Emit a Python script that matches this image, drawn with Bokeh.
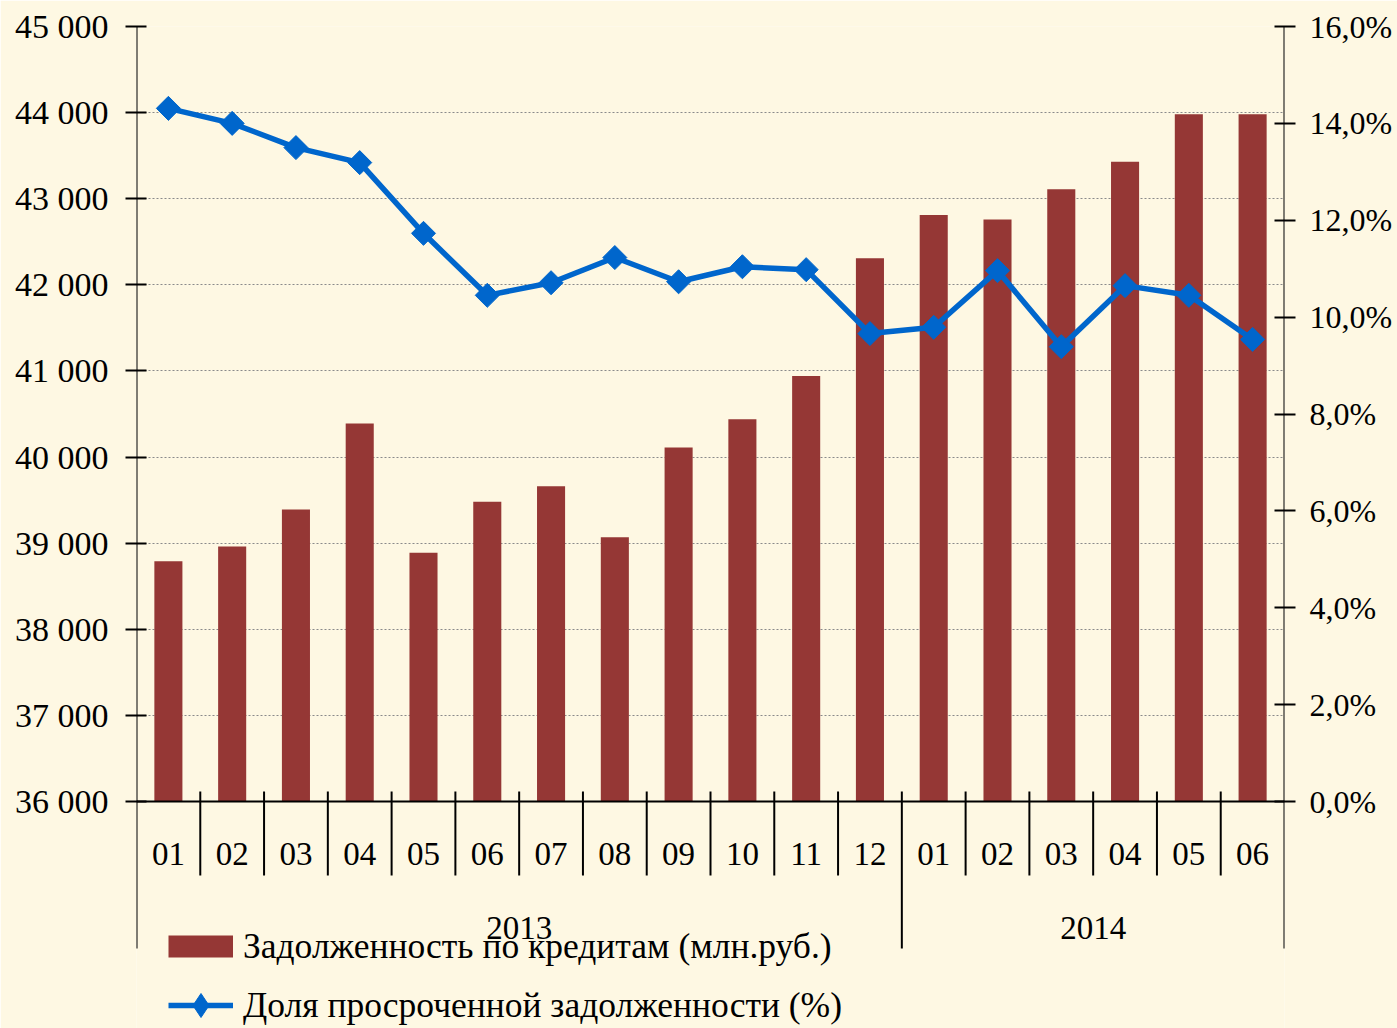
from bokeh.plotting import figure
from bokeh.models import Range1d, LinearAxis, FixedTicker, CustomJSTickFormatter, ColumnDataSource, Legend, LegendItem
from bokeh.core.properties import value
from bokeh.embed import file_html
from bokeh.resources import INLINE

# ---- data ----
months = ["01", "02", "03", "04", "05", "06", "07", "08", "09", "10", "11", "12",
          "01", "02", "03", "04", "05", "06"]
years = ["2013", "2014"]
year_counts = [12, 6]
loans = [38790, 38960, 39390, 40390, 38890, 39480, 39660, 39070, 40110, 40440,
         40940, 42310, 42810, 42760, 43110, 43430, 43980, 43980]
overdue = [14.31, 14.00, 13.50, 13.19, 11.73, 10.45, 10.71, 11.23, 10.73, 11.04,
           10.98, 9.66, 9.79, 10.96, 9.39, 10.65, 10.45, 9.54]
left_ticks = [36000, 37000, 38000, 39000, 40000, 41000, 42000, 43000, 44000, 45000]
right_ticks = [0, 2, 4, 6, 8, 10, 12, 14, 16]
loans_label = "Задолженность по кредитам (млн.руб.)"
overdue_label = "Доля просроченной задолженности (%)"

# ---- styling ----
BG = "#FEF8E3"
BAR = "#953735"
BLUE = "#0066CC"
FONT = "Liberation Serif"

W, H = 1397, 1028
LEFT, TOP, RIGHT = 136, 26, 113
FRAME_W = W - LEFT - RIGHT
FRAME_H = H - TOP
PLOT_H = 775              # pixels between 36 000 and 45 000
EXTRA = FRAME_H - PLOT_H  # pixels of frame below the x axis line
AXIS_DROP = 147           # how far the outer axis lines go below the x axis
y0, y1 = left_ticks[0], left_ticks[-1]
r0, r1 = right_ticks[0], right_ticks[-1]
upx = (y1 - y0) / PLOT_H  # data units per pixel on left scale


def dy(px):
    return px * upx


n = len(months)
xs = [i + 0.5 for i in range(n)]

p = figure(frame_width=FRAME_W, frame_height=FRAME_H,
           x_range=Range1d(0, n), y_range=Range1d(y0 - dy(EXTRA), y1),
           output_backend="svg", toolbar_location=None,
           x_axis_location=None,
           min_border_left=LEFT, min_border_right=RIGHT, min_border_top=TOP, min_border_bottom=0,
           background_fill_color=BG, border_fill_color=BG, outline_line_color=None)
p.extra_y_ranges = {"pct": Range1d(r0 - EXTRA * (r1 - r0) / PLOT_H, r1)}

# left axis
yax = p.yaxis[0]
yax.ticker = FixedTicker(ticks=left_ticks)
yax.formatter = CustomJSTickFormatter(code="return tick.toFixed(0).replace(/\\B(?=(\\d{3})+(?!\\d))/g, ' ');")
yax.major_label_text_font_size = "34px"
yax.major_label_standoff = 17

right = LinearAxis(y_range_name="pct", ticker=FixedTicker(ticks=right_ticks),
                   formatter=CustomJSTickFormatter(code="return tick.toFixed(1).replace('.', ',') + '%';"))
right.major_label_text_font_size = "32px"
right.major_label_standoff = 14
p.add_layout(right, "right")

for ax in [yax, right]:
    ax.axis_line_color = None
    ax.major_tick_line_color = "black"
    ax.major_tick_line_width = 2
    ax.major_tick_out = 11
    ax.major_tick_in = 10
    ax.minor_tick_line_color = None
    ax.major_label_text_font = FONT
    ax.major_label_text_color = "black"

p.xgrid.grid_line_color = None
p.ygrid.ticker = FixedTicker(ticks=left_ticks[1:])
p.ygrid.grid_line_color = "#8a8a8a"
p.ygrid.grid_line_dash = "2 2"
p.ygrid.grid_line_width = 1

# bars
src = ColumnDataSource(dict(x=xs, top=loans, month=months))
br = p.vbar(x="x", top="top", bottom=y0, width=0.44, source=src, color=BAR, line_color=None)

# outer axis lines (left and right) and x axis line
p.segment(x0=[0, n], y0=[y1, y1], x1=[0, n], y1=[y0 - dy(AXIS_DROP)] * 2,
          line_color="black", line_width=2)
p.segment(x0=[0], y0=[y0], x1=[n], y1=[y0], line_color="black", line_width=2)

# month dividers and labels
year_edges = []
acc = 0
for c in year_counts[:-1]:
    acc += c
    year_edges.append(acc)
div_x = list(range(1, n))
div_bottom = [y0 - dy(AXIS_DROP) if i in year_edges else y0 - dy(74) for i in div_x]
p.segment(x0=div_x, y0=[y0 + dy(10)] * len(div_x), x1=div_x, y1=div_bottom,
          line_color="black", line_width=2)

p.text(x="x", y=y0 - dy(52), text="month", source=src,
       text_font=value(FONT), text_font_size=value("33px"), text_color="black",
       text_align="center", text_baseline="middle")

# year labels
yc = []
start = 0
for c in year_counts:
    yc.append(start + c / 2)
    start += c
p.text(x=yc, y=[y0 - dy(126)] * len(yc), text=years,
       text_font=value(FONT), text_font_size=value("33px"), text_color="black",
       text_align="center", text_baseline="middle")

# line
lsrc = ColumnDataSource(dict(x=xs, y=overdue))
lr = p.line("x", "y", source=lsrc, y_range_name="pct", line_color=BLUE, line_width=5.5)
sr = p.scatter("x", "y", source=lsrc, y_range_name="pct", marker="square", angle=0.785398,
               size=17, fill_color=BLUE, line_color=BLUE)

# legend swatches (hidden renderers, shown only inside the legends)
bar_swatch = p.line("x", "top", source=src, line_color=BAR, line_width=22, line_cap="butt", visible=False)
dia_swatch = p.scatter("x", "y", source=lsrc, y_range_name="pct", marker="diamond",
                       fill_color=BLUE, line_color=BLUE, visible=False)

common = dict(padding=0, margin=0, glyph_width=65, label_standoff=10,
              label_text_font=FONT, label_text_font_size="35.5px", label_text_color="black",
              background_fill_alpha=0, border_line_alpha=0, click_policy="none")
leg1 = Legend(items=[LegendItem(label=loans_label, renderers=[bar_swatch])],
              location=(32, 61), glyph_height=42, **common)
leg2 = Legend(items=[LegendItem(label=overdue_label, renderers=[lr, dia_swatch])],
              location=(32, -6.5), glyph_height=60, **common)
p.add_layout(leg1)
p.add_layout(leg2)

open("out.html", "w").write(file_html(p, INLINE))
